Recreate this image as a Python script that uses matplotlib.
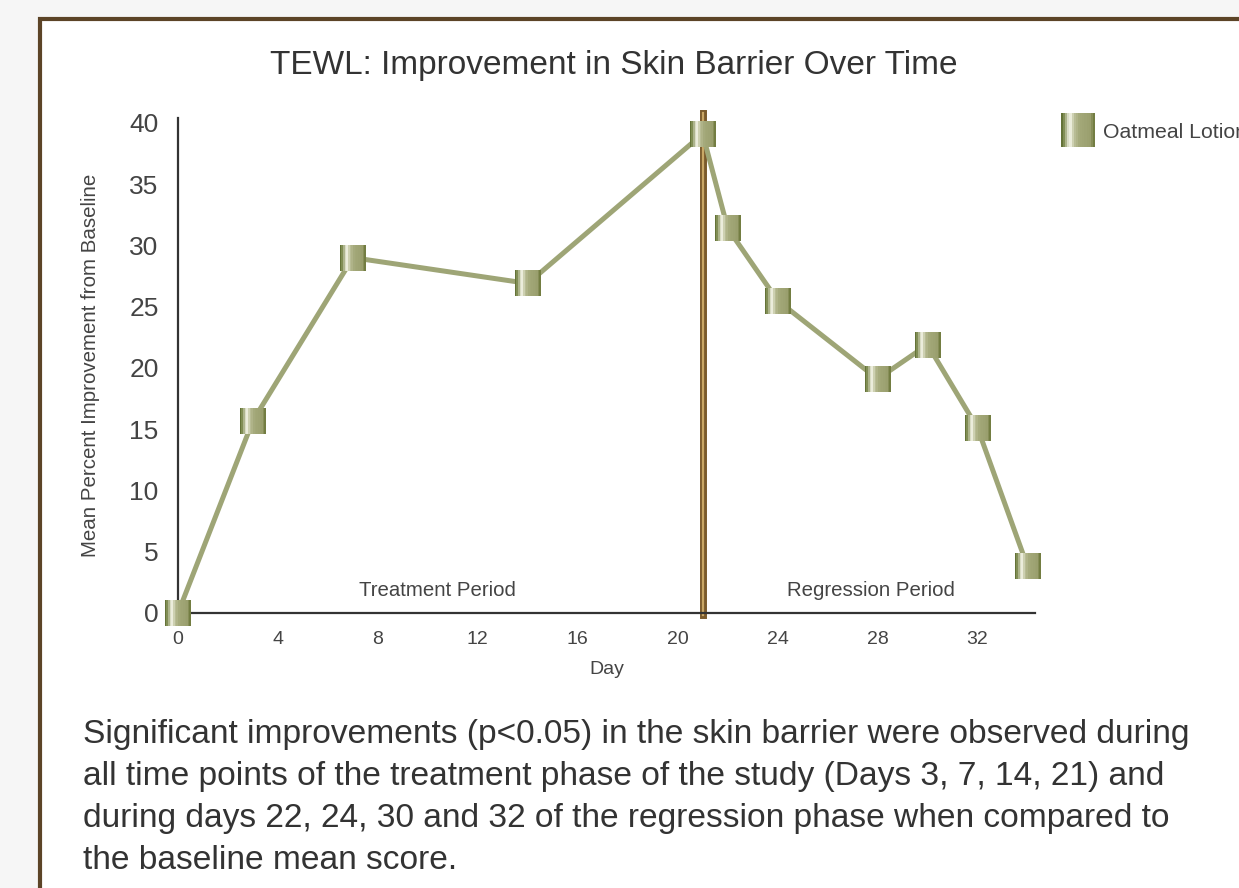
import numpy as np
import matplotlib
matplotlib.use("Agg")
import matplotlib.pyplot as plt
from matplotlib.path import Path
from matplotlib.patches import Rectangle
from matplotlib.colors import LinearSegmentedColormap
from matplotlib.legend_handler import HandlerTuple

plt.rcParams['font.family'] = ['Liberation Sans', 'DejaVu Sans']

# data
days = [0, 3, 7, 14, 21, 22, 24, 28, 30, 32, 34]
improvement = [0, 15.7, 29.0, 26.9, 39.1, 31.4, 25.5, 19.1, 21.9, 15.1, 3.8]
split_day = 21
x_ticks = [0, 4, 8, 12, 16, 20, 24, 28, 32]
y_ticks = [0, 5, 10, 15, 20, 25, 30, 35, 40]
series_name = 'Oatmeal Lotion'
caption = ("Significant improvements (p<0.05) in the skin barrier were observed during\n"
           "all time points of the treatment phase of the study (Days 3, 7, 14, 21) and\n"
           "during days 22, 24, 30 and 32 of the regression phase when compared to\n"
           "the baseline mean score.")

fig = plt.figure(figsize=(12.39, 8.88), dpi=100, facecolor='#f6f6f6')

# brown frame around the panel
fig.patches.append(Rectangle((40 / 1239, -0.1), 1.2, 1 - 19 / 888 + 0.1,
                             transform=fig.transFigure, facecolor='white',
                             edgecolor='#5c4427', linewidth=3, zorder=-5))

ax = fig.add_axes([178 / 1239, 1 - 613 / 888, (1035 - 178) / 1239, (613 - 118) / 888])
ax.set_facecolor('none')
ax.set_xlim(0, 34.3)
ax.set_ylim(0, 40.4)

for s in ['top', 'right']:
    ax.spines[s].set_visible(False)
for s in ['left', 'bottom']:
    ax.spines[s].set_color('#333333')
    ax.spines[s].set_linewidth(1.6)

ax.set_xticks(x_ticks)
ax.set_yticks(y_ticks)
ax.tick_params(axis='x', length=0, labelsize=14, labelcolor='#444444', pad=13)
ax.tick_params(axis='y', length=0, labelsize=19, labelcolor='#444444', pad=14)
ax.set_xlabel('Day', fontsize=14, color='#444444', labelpad=9)
ax.set_ylabel('Mean Percent Improvement from Baseline', fontsize=14.8, color='#444444', labelpad=21)
ax.set_title('TEWL: Improvement in Skin Barrier Over Time', fontsize=24, color='#333333',
             pad=32, x=0.508)

# split line between phases
ax.axvline(split_day, ymin=-0.005, ymax=1.01, color='#7a5a2c', linewidth=5, clip_on=False, zorder=2)
ax.axvline(split_day, ymin=-0.005, ymax=1.01, color='#c9a766', linewidth=1.6, clip_on=False, zorder=2)

ax.text(0.303, 0.035, 'Treatment Period', transform=ax.transAxes, ha='center',
        fontsize=14.7, color='#444444')
ax.text(0.808, 0.035, 'Regression Period', transform=ax.transAxes, ha='center',
        fontsize=14.7, color='#444444')

ax.plot(days, improvement, color='#9ea576', linewidth=3.6, zorder=3, clip_on=False)

# gradient square markers built from vertical strips
grad = LinearSegmentedColormap.from_list('olive', [
    (0.0, '#56662a'), (0.1, '#849058'), (0.26, '#f6f6ea'), (0.38, '#bcc09a'),
    (0.55, '#a3a879'), (0.85, '#9a9f6e'), (1.0, '#6a7538')])
n = 16
strips = []
for i in range(n):
    x0 = -1 + 2 * i / n
    x1 = -1 + 2 * (i + 1) / n + 0.02
    verts = [(x0, -1), (x1, -1), (x1, 1), (x0, 1), (x0, -1)]
    marker = Path(verts, [Path.MOVETO, Path.LINETO, Path.LINETO, Path.LINETO, Path.CLOSEPOLY])
    ln, = ax.plot(days, improvement, linestyle='none', marker=marker, markersize=19,
                  markerfacecolor=grad((i + 0.5) / n), markeredgewidth=0, zorder=4, clip_on=False)
    strips.append(ln)

fig.legend(handles=[tuple(strips)], labels=[series_name],
           handler_map={tuple: HandlerTuple(ndivide=1, pad=0)},
           loc='upper left', bbox_to_anchor=(1055 / 1239, 1 - 112 / 888),
           frameon=False, markerscale=1.3, handlelength=1.2, handletextpad=0.55,
           borderpad=0, fontsize=15.3, labelcolor='#444444')

fig.text(83 / 1239, 1 - 719 / 888, caption, fontsize=24.1, color='#333333',
         va='top', ha='left', linespacing=1.46)

fig.savefig('out.png', dpi=100, facecolor=fig.get_facecolor())
